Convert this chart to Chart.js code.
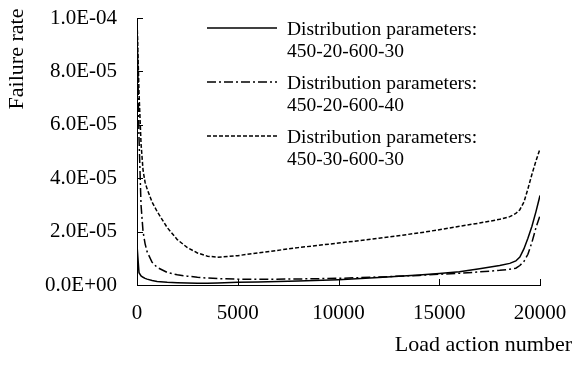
<!DOCTYPE html>
<html>
<head>
<meta charset="utf-8">
<script src="https://cdn.jsdelivr.net/npm/chart.js@4.4.1/dist/chart.umd.min.js"></script>
<style>
  html, body { margin: 0; padding: 0; background: #fff; }
</style>
</head>
<body>
<canvas id="failureChart" width="576" height="367"></canvas>
<script>
// Load action numbers shared by all three curves
const loadSteps = [0, 100, 200, 300, 400, 500, 750, 1000, 1500, 2000, 2500, 3000, 3500, 4000,
  5000, 6000, 8000, 10000, 12000, 14000, 15000, 16000, 17000, 18000, 18500, 18800,
  19000, 19200, 19400, 19600, 19800, 20000];

// Failure rate, parameters 450-20-600-30
const rate_20_30 = [1.5e-5, 4.6e-6, 3.4e-6, 2.9e-6, 2.5e-6, 2.2e-6, 1.7e-6, 1.35e-6, 1.0e-6, 0.85e-6,
  0.75e-6, 0.7e-6, 0.7e-6, 0.75e-6, 1.0e-6, 1.15e-6, 1.5e-6, 2.0e-6, 2.8e-6, 3.7e-6, 4.3e-6,
  5.0e-6, 6.1e-6, 7.3e-6, 8.1e-6, 9.0e-6, 1.05e-5, 1.35e-5, 1.75e-5, 2.2e-5, 2.75e-5, 3.35e-5];

// Failure rate, parameters 450-20-600-40
const rate_20_40 = [1.0e-4, 5.5e-5, 3.0e-5, 2.0e-5, 1.55e-5, 1.25e-5, 8.5e-6, 6.6e-6, 4.7e-6, 3.8e-6,
  3.3e-6, 2.9e-6, 2.6e-6, 2.4e-6, 2.2e-6, 2.15e-6, 2.25e-6, 2.5e-6, 3.0e-6, 3.6e-6, 4.0e-6,
  4.4e-6, 4.9e-6, 5.5e-6, 5.9e-6, 6.3e-6, 7.3e-6, 8.8e-6, 1.15e-5, 1.6e-5, 2.15e-5, 2.6e-5];

// Failure rate, parameters 450-30-600-30
const rate_30_30 = [1.0e-4, 7.2e-5, 5.3e-5, 4.3e-5, 3.85e-5, 3.6e-5, 3.1e-5, 2.75e-5, 2.15e-5, 1.7e-5,
  1.4e-5, 1.2e-5, 1.08e-5, 1.04e-5, 1.1e-5, 1.2e-5, 1.4e-5, 1.57e-5, 1.75e-5, 1.95e-5, 2.07e-5,
  2.2e-5, 2.32e-5, 2.46e-5, 2.56e-5, 2.68e-5, 2.82e-5, 3.1e-5, 3.6e-5, 4.15e-5, 4.65e-5, 5.1e-5];

const seriesLabels = [
  ['Distribution parameters:', '450-20-600-30'],
  ['Distribution parameters:', '450-20-600-40'],
  ['Distribution parameters:', '450-30-600-30']
];

const xTitle = 'Load action number';
const yTitle = 'Failure rate';

const SERIF = "'Liberation Serif', 'Times New Roman', serif";

const toPoints = ys => ys.map((y, i) => ({ x: loadSteps[i], y: y }));

// 2.0E-05 style labels
const sciLabel = v => {
  const [m, e] = Number(v).toExponential(1).split('e');
  const n = Math.abs(parseInt(e, 10));
  return m + 'E' + (e[0] === '-' ? '-' : '+') + String(n).padStart(2, '0');
};

// Short tick marks pointing into the plot
const innerTicks = {
  id: 'innerTicks',
  afterDatasetsDraw(chart) {
    const { ctx, chartArea, scales } = chart;
    ctx.save();
    ctx.strokeStyle = '#000';
    ctx.lineWidth = 1;
    ctx.beginPath();
    scales.x.ticks.forEach(t => {
      const px = Math.round(scales.x.getPixelForValue(t.value)) + 0.5;
      ctx.moveTo(px, chartArea.bottom);
      ctx.lineTo(px, chartArea.bottom - 6);
    });
    scales.y.ticks.forEach(t => {
      const py = Math.round(scales.y.getPixelForValue(t.value)) + 0.5;
      ctx.moveTo(chartArea.left, py);
      ctx.lineTo(chartArea.left + 6, py);
    });
    ctx.stroke();
    ctx.restore();
  }
};

// Axis titles and the two-line legend
const annotations = {
  id: 'annotations',
  afterDraw(chart) {
    const ctx = chart.ctx;
    ctx.save();
    ctx.fillStyle = '#000';

    ctx.font = '22px ' + SERIF;
    ctx.textAlign = 'right';
    ctx.textBaseline = 'alphabetic';
    ctx.fillText(xTitle, 572, 351);

    ctx.save();
    ctx.translate(23, 59);
    ctx.rotate(-Math.PI / 2);
    ctx.textAlign = 'center';
    ctx.fillText(yTitle, 0, 0);
    ctx.restore();

    ctx.font = '19.5px ' + SERIF;
    ctx.textAlign = 'left';
    chart.data.datasets.forEach((ds, i) => {
      const base = 35 + i * 54;
      ctx.save();
      ctx.strokeStyle = ds.borderColor;
      ctx.lineWidth = ds.borderWidth;
      ctx.setLineDash(ds.borderDash || []);
      ctx.beginPath();
      ctx.moveTo(207, base - 7);
      ctx.lineTo(277, base - 7);
      ctx.stroke();
      ctx.restore();
      ds.label.forEach((line, j) => ctx.fillText(line, 287, base + j * 22));
    });
    ctx.restore();
  }
};

const lineStyle = { borderColor: '#000', borderWidth: 1.5, pointRadius: 0, tension: 0, fill: false };

new Chart(document.getElementById('failureChart'), {
  type: 'line',
  data: {
    datasets: [
      { ...lineStyle, label: seriesLabels[0], data: toPoints(rate_20_30) },
      { ...lineStyle, label: seriesLabels[1], data: toPoints(rate_20_40), borderDash: [9, 3, 2, 3] },
      { ...lineStyle, label: seriesLabels[2], data: toPoints(rate_30_30), borderDash: [4, 2] }
    ]
  },
  options: {
    responsive: false,
    animation: false,
    devicePixelRatio: 1,
    layout: { padding: { top: 18, right: 36, left: 0, bottom: 0 } },
    plugins: { legend: { display: false }, tooltip: { enabled: false } },
    scales: {
      x: {
        type: 'linear',
        min: 0,
        max: 20000,
        grid: { display: false },
        border: { display: true, color: '#000', width: 1 },
        ticks: {
          stepSize: 5000,
          color: '#000',
          padding: 8,
          font: { family: SERIF, size: 21 },
          maxRotation: 0,
          callback: v => String(v)
        },
        afterFit: s => {
          s.height = 82;
          s.paddingLeft = 0;
          s.paddingRight = 0;
        }
      },
      y: {
        min: 0,
        max: 1e-4,
        grid: { display: false },
        border: { display: true, color: '#000', width: 1 },
        ticks: {
          stepSize: 2e-5,
          color: '#000',
          padding: 12,
          font: { family: SERIF, size: 21 },
          callback: v => sciLabel(v)
        },
        afterFit: s => {
          s.width = 137;
          s.paddingTop = 0;
          s.paddingBottom = 0;
        }
      }
    }
  },
  plugins: [innerTicks, annotations]
});
</script>
</body>
</html>
